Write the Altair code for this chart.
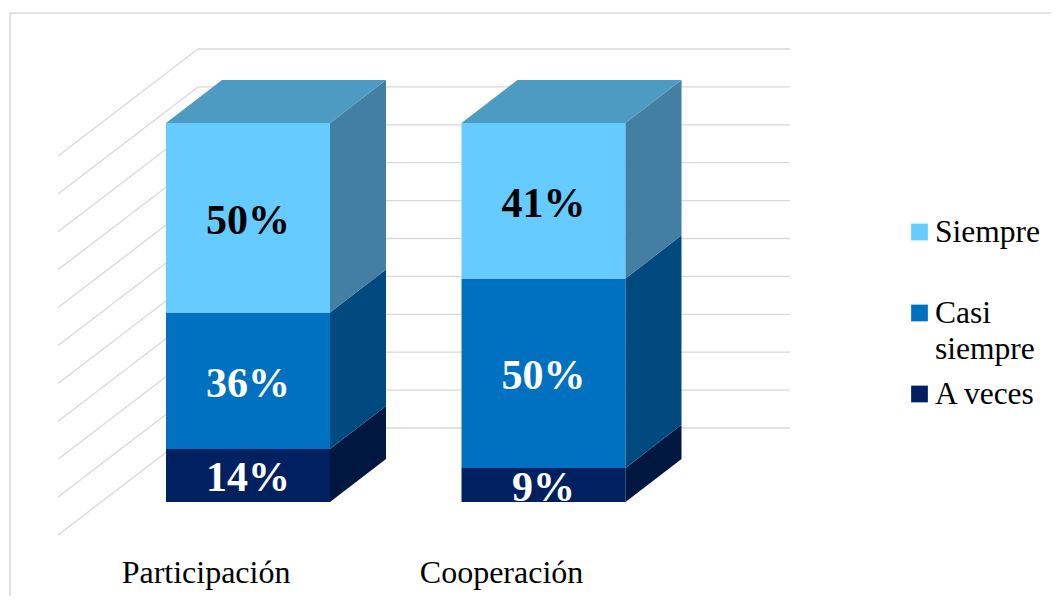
import altair as alt
import pandas as pd

# ---------------- data ----------------
categories = ["Participación", "Cooperación"]
series = ["A veces", "Casi siempre", "Siempre"]          # stacking order bottom -> top
a_veces = [14, 9]
casi_siempre = [36, 50]
siempre = [50, 41]
grid_ticks = [0, 10, 20, 30, 40, 50, 60, 70, 80, 90, 100]
legend_order = ["Siempre", "Casi siempre", "A veces"]

# ---------------- styles / geometry (data units) ----------------
FRONT = {"Siempre": "#66CCFF", "Casi siempre": "#0070C0", "A veces": "#002060"}
SIDE = {"Siempre": "#427FA3", "Casi siempre": "#004A80", "A veces": "#00173F"}
TOP = "#4D9BC2"
LABEL_COLOR = {"Siempre": "#000000", "Casi siempre": "#FFFFFF", "A veces": "#FFFFFF"}
GRID = "#D9D9D9"

W, H = 1043, 588
X_DOM = [-0.8122, 2.7174]
Y_DOM = [-24.802, 130.343]
HALF_W = 0.2775
DX = 0.1895
DY = 11.35
WALL_L, WALL_R, WALL_DY = -0.1692, 1.834, 19.525
SIDE_X0, SIDE_DY0 = -0.643, -8.707
CAT_SHIFT, CAT_P = -0.142, -18.73

xs = alt.Scale(domain=X_DOM, nice=False, zero=False)
ys = alt.Scale(domain=Y_DOM, nice=False, zero=False)

values = {"A veces": a_veces, "Casi siempre": casi_siempre, "Siempre": siempre}

front_rows, right_rows, top_rows = [], [], []
for i, cat in enumerate(categories):
    base = 0
    for j, s in enumerate(series):
        v = values[s][i]
        p0, p1 = base, base + v
        ul, ur = i - HALF_W, i + HALF_W
        front_rows.append(dict(cat=cat, series=s, ul=ul, ur=ur, p0=p0, p1=p1,
                               mid=(p0 + p1) / 2, ux=i, label=f"{v}%",
                               color=FRONT[s], lcolor=LABEL_COLOR[s]))
        fid = f"{cat}-{s}"
        right_rows.append(dict(fid=fid, u=ur, pb=p0, pt=p1, color=SIDE[s]))
        right_rows.append(dict(fid=fid, u=ur + DX, pb=p0 + DY, pt=p1 + DY, color=SIDE[s]))
        if j == len(series) - 1:
            top_rows.append(dict(fid=fid, p=p1, ul=ul, ur=ur, color=TOP))
            top_rows.append(dict(fid=fid, p=p1 + DY, ul=ul + DX, ur=ur + DX, color=TOP))
        base = p1

front = pd.DataFrame(front_rows)
right = pd.DataFrame(right_rows)
top = pd.DataFrame(top_rows)

grid = pd.DataFrame({"t": grid_ticks})
grid["yb"] = grid["t"] + WALL_DY
grid["yf"] = grid["t"] + SIDE_DY0
grid["xl"] = WALL_L
grid["xr"] = WALL_R
grid["xf"] = SIDE_X0

cats = pd.DataFrame({"cat": categories, "u": [i + CAT_SHIFT for i in range(len(categories))],
                     "p": CAT_P})

leg = pd.DataFrame({"series": legend_order})
leg["sq_u"] = 2.2724
leg["tx_u"] = 2.3249
leg["sq_p"] = [71.24 - 21.37 * k for k in range(len(legend_order))]
leg["tx_p"] = leg["sq_p"] - 2.64
leg["text"] = [s.replace(" ", "\n") if len(s) > 8 else s for s in legend_order]
leg["color"] = [FRONT[s] for s in legend_order]

# ---------------- layers ----------------
border_top = alt.Chart(pd.DataFrame({"a": [0]})).mark_rule(color=GRID, strokeWidth=1.5).encode(
    x=alt.value(2), x2=alt.value(W), y=alt.value(5), y2=alt.value(5))
border_left = alt.Chart(pd.DataFrame({"a": [0]})).mark_rule(color=GRID, strokeWidth=1.5).encode(
    x=alt.value(2), x2=alt.value(2), y=alt.value(5), y2=alt.value(H))

back_lines = alt.Chart(grid).mark_rule(color=GRID, strokeWidth=1.3).encode(
    x=alt.X("xl:Q", scale=xs, axis=None), x2="xr:Q",
    y=alt.Y("yb:Q", scale=ys, axis=None), y2="yb:Q")
side_lines = alt.Chart(grid).mark_rule(color=GRID, strokeWidth=1.3).encode(
    x=alt.X("xf:Q", scale=xs, axis=None), x2="xl:Q",
    y=alt.Y("yf:Q", scale=ys, axis=None), y2="yb:Q")

front_rect = alt.Chart(front).mark_rect().encode(
    x=alt.X("ul:Q", scale=xs, axis=None), x2="ur:Q",
    y=alt.Y("p0:Q", scale=ys, axis=None), y2="p1:Q",
    color=alt.Color("color:N", scale=None))

right_face = alt.Chart(right).mark_area(orient="vertical", opacity=1).encode(
    x=alt.X("u:Q", scale=xs, axis=None),
    y=alt.Y("pb:Q", scale=ys, axis=None, stack=None), y2="pt:Q",
    detail="fid:N",
    color=alt.Color("color:N", scale=None))

top_face = alt.Chart(top).mark_area(orient="horizontal", opacity=1).encode(
    y=alt.Y("p:Q", scale=ys, axis=None),
    x=alt.X("ul:Q", scale=xs, axis=None, stack=None), x2="ur:Q",
    detail="fid:N",
    color=alt.Color("color:N", scale=None))

labels = alt.Chart(front).mark_text(font="Liberation Serif", fontWeight="bold", fontSize=42,
                                    baseline="middle", align="center", dy=3).encode(
    x=alt.X("ux:Q", scale=xs, axis=None),
    y=alt.Y("mid:Q", scale=ys, axis=None),
    text="label:N",
    color=alt.Color("lcolor:N", scale=None))

cat_text = alt.Chart(cats).mark_text(font="Liberation Serif", fontSize=32, baseline="middle",
                                     align="center", color="#000000").encode(
    x=alt.X("u:Q", scale=xs, axis=None),
    y=alt.Y("p:Q", scale=ys, axis=None),
    text="cat:N")

leg_sq = alt.Chart(leg).mark_square(size=280, opacity=1, filled=True).encode(
    x=alt.X("sq_u:Q", scale=xs, axis=None),
    y=alt.Y("sq_p:Q", scale=ys, axis=None),
    color=alt.Color("color:N", scale=None))

leg_tx = alt.Chart(leg).mark_text(font="Liberation Serif", fontSize=31.5, baseline="alphabetic",
                                  align="left", lineBreak="\n", lineHeight=36,
                                  color="#000000").encode(
    x=alt.X("tx_u:Q", scale=xs, axis=None),
    y=alt.Y("tx_p:Q", scale=ys, axis=None),
    text="text:N")

chart = alt.layer(
    border_top, border_left, back_lines, side_lines,
    front_rect, right_face, top_face, labels, cat_text, leg_sq, leg_tx
).properties(
    width=W, height=H, padding=0, autosize=alt.AutoSizeParams(type="none"),
    background="white"
).configure_view(stroke=None)

chart.save("out.html", embed_options={"renderer": "svg", "actions": False})
